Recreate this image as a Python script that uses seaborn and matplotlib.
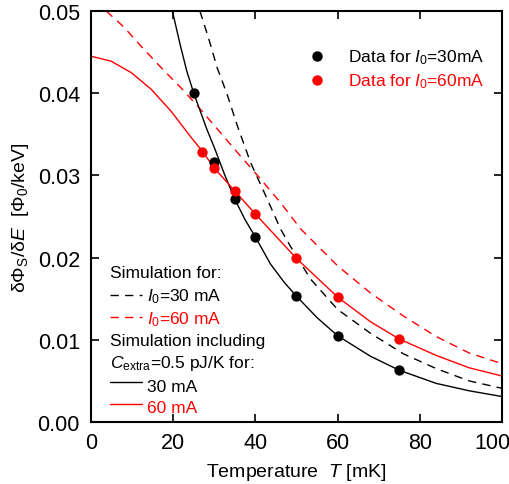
import pandas                as pd
import seaborn               as sns
import matplotlib.pyplot     as plt
import matplotlib.transforms as mtrans


OUT_PATH = "out.png"

# measured points (T in mK, response in Phi0/keV)
T_DATA_30   = [25, 30, 35, 40, 50, 60, 75]
V_DATA_30   = [0.0400, 0.0316, 0.0271, 0.0225, 0.0153, 0.0105, 0.0063]
T_DATA_60   = [27, 30, 35, 40, 50, 60, 75]
V_DATA_60   = [0.0329, 0.0309, 0.0281, 0.0253, 0.0199, 0.0152, 0.0101]

# simulation, no extra heat capacity (dashed)
T_SIM_30    = [26.5, 28.6, 30.7, 33.1, 35.5, 38.8, 42.9, 46.1, 48.5, 53.4, 60, 68, 76, 84, 92, 100]
V_SIM_30    = [0.0500, 0.0467, 0.0431, 0.0399, 0.0362, 0.0316, 0.0271, 0.0235,
               0.0214, 0.0174, 0.0137, 0.0108, 0.0083, 0.0065, 0.0050, 0.0041]
T_SIM_60    = [3.7, 8.1, 12.2, 17.1, 22, 26.7, 31.5, 36.3, 41.2, 46.1, 51, 60, 68, 76, 84, 92, 100]
V_SIM_60    = [0.0500, 0.0480, 0.0457, 0.0431, 0.0406, 0.0380, 0.0352, 0.0324, 0.0296,
               0.0267, 0.0235, 0.0190, 0.0157, 0.0129, 0.0104, 0.0084, 0.0071]

# simulation with C_extra = 0.5 pJ/K (solid)
T_CEX_30    = [19.8, 21.7, 23.3, 25, 26.6, 28.2, 30, 32.5, 35, 37.5, 40, 43.7, 47, 50,
               55, 60, 68, 75, 84, 92, 100]
V_CEX_30    = [0.0500, 0.0459, 0.0427, 0.0400, 0.0378, 0.0356, 0.0334, 0.0301, 0.0271,
               0.0246, 0.0225, 0.0192, 0.0170, 0.0153, 0.0127, 0.0105, 0.0080, 0.0063,
               0.0047, 0.0038, 0.0031]
T_CEX_60    = [0, 4.9, 9.8, 14.6, 19.5, 24.4, 27, 30, 35, 40, 45, 50, 60, 68, 75, 84, 92, 100]
V_CEX_60    = [0.0445, 0.0439, 0.0425, 0.0405, 0.0378, 0.0346, 0.0330, 0.0309, 0.0281,
               0.0253, 0.0226, 0.0199, 0.0152, 0.0122, 0.0101, 0.0081, 0.0066, 0.0056]

X_TICKS     = [0, 20, 40, 60, 80, 100]
Y_TICKS     = [0.00, 0.01, 0.02, 0.03, 0.04, 0.05]

RED         = "#ff0000"
BLACK       = "#000000"
DASHES      = (6, 4.5)


def plot_chart():

    sns.set_style("ticks")
    plt.rcParams.update({
        "font.family"      : ["Liberation Sans", "DejaVu Sans"],
        "mathtext.fontset" : "custom",
        "mathtext.rm"      : "Liberation Sans",
        "mathtext.it"      : "Liberation Sans:italic",
        "mathtext.bf"      : "Liberation Sans:bold",
        "text.color"       : BLACK,
        "axes.labelcolor"  : BLACK,
        "xtick.color"      : BLACK,
        "ytick.color"      : BLACK,
        "axes.edgecolor"   : BLACK,
    })

    fig = plt.figure(
        figsize =(5.09, 4.85),
        dpi     =100
    )
    ax  = fig.add_axes([0.1788, 0.1278, 0.8074, 0.8474])

    sims = [
        (T_SIM_30, V_SIM_30, BLACK, True),
        (T_SIM_60, V_SIM_60, RED,   True),
        (T_CEX_30, V_CEX_30, BLACK, False),
        (T_CEX_60, V_CEX_60, RED,   False),
    ]
    for t, v, color, dashed in sims:
        line_df = pd.DataFrame({"T": t, "V": v})
        sns.lineplot(
            data      =line_df,
            x         ="T",
            y         ="V",
            color     =color,
            linewidth =1.0,
            sort      =False,
            ax        =ax
        )
        if dashed:
            ax.lines[-1].set_dashes(DASHES)

    for t, v, color in [(T_DATA_30, V_DATA_30, BLACK), (T_DATA_60, V_DATA_60, RED)]:
        pts_df = pd.DataFrame({"T": t, "V": v})
        sns.scatterplot(
            data      =pts_df,
            x         ="T",
            y         ="V",
            color     =color,
            s         =55,
            linewidth =0,
            zorder    =5,
            ax        =ax
        )

    ax.set_xlim(0, 100)
    ax.set_ylim(0, 0.05)
    ax.set_xticks(X_TICKS)
    ax.set_yticks(Y_TICKS)
    ax.set_yticklabels([f"{y:.2f}" for y in Y_TICKS])

    ax.tick_params(
        direction ="in",
        length    =6,
        width     =1.2,
        top       =True,
        right     =True,
        labelsize =15.5
    )
    ax.tick_params(axis="x", pad=7)
    ax.tick_params(axis="y", pad=8)
    for side in ["left", "right", "top", "bottom"]:
        ax.spines[side].set_linewidth(1.5)
        ax.spines[side].set_visible(True)

    # the "100" label is pushed left so it stays inside the figure
    last_lbl = ax.xaxis.get_major_ticks()[-1].label1
    last_lbl.set_transform(
        last_lbl.get_transform() + mtrans.ScaledTranslation(-10 / 100, 0, fig.dpi_scale_trans)
    )

    ax.set_xlabel("Temperature  $T$ [mK]", fontsize=14, labelpad=6)
    ax.set_ylabel("δΦ$_\\mathrm{S}$/δ$E$  [Φ$_\\mathrm{0}$/keV]", fontsize=14, labelpad=5)

    # legend for the measured points (upper right)
    tr = ax.transAxes
    for y_mark, y_text, color, cur in [(0.8905, 0.8776, BLACK, "30"), (0.8321, 0.8183, RED, "60")]:
        ax.plot([0.5499], [y_mark], marker="o", ms=7.5, mew=0, color=color,
                transform=tr, clip_on=False)
        ax.text(0.6253, y_text, f"Data for $I_\\mathrm{{0}}$={cur}mA", color=color,
                fontsize=12.5, va="baseline", ha="left", transform=tr)

    # legend for the simulations (lower left)
    x_txt = 0.0462
    x_key = [0.0462, 0.124]
    x_lab = 0.136
    fs    = 12.5
    ax.text(x_txt, 0.352, "Simulation for:", fontsize=fs, va="baseline", transform=tr)
    ax.plot(x_key, [0.309, 0.309], color=BLACK, lw=1.0, dashes=DASHES, transform=tr)
    ax.text(x_lab, 0.2951, "$I_\\mathrm{0}$=30 mA", fontsize=fs, va="baseline", transform=tr)
    ax.plot(x_key, [0.255, 0.255], color=RED, lw=1.0, dashes=DASHES, transform=tr)
    ax.text(x_lab, 0.2409, "$I_\\mathrm{0}$=60 mA", fontsize=fs, va="baseline", color=RED,
            transform=tr)
    ax.text(x_txt, 0.1873, "Simulation including", fontsize=fs, va="baseline", transform=tr)
    ax.text(x_txt, 0.1331, "$C_\\mathrm{extra}$=0.5 pJ/K for:", fontsize=fs, va="baseline",
            transform=tr)
    ax.plot(x_key, [0.0973, 0.0973], color=BLACK, lw=1.0, transform=tr)
    ax.text(x_lab, 0.0762, "30 mA", fontsize=fs, va="baseline", transform=tr)
    ax.plot(x_key, [0.0438, 0.0438], color=RED, lw=1.0, transform=tr)
    ax.text(x_lab, 0.0251, "60 mA", fontsize=fs, va="baseline", color=RED, transform=tr)

    fig.savefig(OUT_PATH, dpi=100)
    print(f"Figura salva em: '{OUT_PATH}'")


if __name__ == '__main__':
    plot_chart()
